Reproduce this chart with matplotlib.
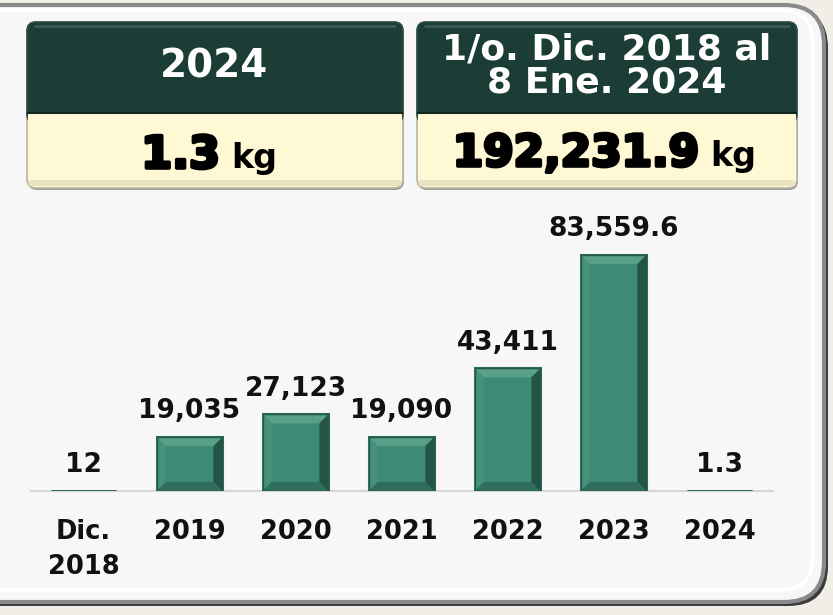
import matplotlib
matplotlib.use("Agg")
import matplotlib.pyplot as plt
from matplotlib.patches import FancyBboxPatch, Rectangle, Polygon
import matplotlib.patheffects as pe

# ---- data ----
categories = ["Dic.\n2018", "2019", "2020", "2021", "2022", "2023", "2024"]
values = [12, 19035, 27123, 19090, 43411, 83559.6, 1.3]
value_labels = ["12", "19,035", "27,123", "19,090", "43,411", "83,559.6", "1.3"]
box1_title = "2024"
box1_value = "1.3"
box2_title = "1/o. Dic. 2018 al\n8 Ene. 2024"
box2_value = "192,231.9"
unit = "kg"

W, H = 833, 615
fig = plt.figure(figsize=(W / 100, H / 100), dpi=100)
fig.patch.set_facecolor("#f1ede7")

# overlay axes in pixel coordinates (y down)
bg = fig.add_axes([0, 0, 1, 1], zorder=0)
bg.set_xlim(0, W)
bg.set_ylim(H, 0)
bg.axis("off")

# panel with shadow
shadow = FancyBboxPatch((-40, 8), 40 + 828, 606 - 8,
                        boxstyle="round,pad=0,rounding_size=40",
                        facecolor="#3a3a3a", edgecolor="none")
bg.add_patch(shadow)
panel = FancyBboxPatch((-40, 5), 40 + 824, 602 - 5,
                       boxstyle="round,pad=0,rounding_size=40",
                       facecolor="#f7f7f7", edgecolor="#8a8a8a", linewidth=3.0)
bg.add_patch(panel)
inner = FancyBboxPatch((-40, 10), 40 + 813, 590 - 10,
                       boxstyle="round,pad=0,rounding_size=34",
                       facecolor="none", edgecolor="#ffffff", linewidth=2.5)
bg.add_patch(inner)

dark = "#1c3c36"
cream = "#fff8d5"


def draw_box(x0, x1, y0, ysplit, y1):
    sh = FancyBboxPatch((x0 + 1, y0 + 2), x1 - x0, y1 - y0,
                        boxstyle="round,pad=0,rounding_size=9",
                        facecolor="#9a9a92", edgecolor="none")
    bg.add_patch(sh)
    body = FancyBboxPatch((x0, y0), x1 - x0, y1 - y0,
                          boxstyle="round,pad=0,rounding_size=9",
                          facecolor=cream, edgecolor="#b9b5a3", linewidth=1.2)
    bg.add_patch(body)
    bg.add_patch(Rectangle((x0 + 2, y1 - 8), x1 - x0 - 4, 6,
                           facecolor="#e9e2c3", edgecolor="none"))
    head = FancyBboxPatch((x0, y0), x1 - x0, ysplit - y0 + 10,
                          boxstyle="round,pad=0,rounding_size=9",
                          facecolor=dark, edgecolor="#2f4d46", linewidth=1.2)
    bg.add_patch(head)
    bg.add_patch(Rectangle((x0 + 0.8, ysplit), x1 - x0 - 1.6, 12,
                           facecolor=cream, edgecolor="none"))
    bg.plot([x0 + 8, x1 - 8], [y0 + 4, y0 + 4], color="#3d5a53", lw=2,
            solid_capstyle="round")
    bg.plot([x0 + 1, x1 - 1], [ysplit, ysplit], color="#0f2622", lw=1.5)


draw_box(27, 403, 22, 113, 188)
draw_box(417, 797, 22, 113, 188)

bold = dict(family="DejaVu Sans", fontweight="bold")
bg.text(214, 67, box1_title, color="white", fontsize=28, ha="center",
        va="center", **bold)
bg.text(607, 66, box2_title, color="white", fontsize=26, ha="center",
        va="center", linespacing=0.98, **bold)

heavy = [pe.withStroke(linewidth=2.6, foreground="black")]
t = bg.text(220, 168, box1_value, color="black", fontsize=32, ha="right",
            va="baseline", **bold)
t.set_path_effects(heavy)
bg.text(231, 168, unit, color="black", fontsize=24, ha="left",
        va="baseline", **bold)
t = bg.text(699, 166, box2_value, color="black", fontsize=31.5, ha="right",
            va="baseline", **bold)
t.set_path_effects(heavy)
bg.text(710, 166, unit, color="black", fontsize=24, ha="left",
        va="baseline", **bold)

# ---- bar chart ----
ax_left, ax_bottom = 30.5 / W, (H - 491) / H
ax_w, ax_h = 742 / W, 282.4 / H
ax = fig.add_axes([ax_left, ax_bottom, ax_w, ax_h], zorder=1)
ax.patch.set_alpha(0)
ymax = 100000
ax.set_xlim(-0.5, len(values) - 0.5)
ax.set_ylim(0, ymax)
for s in ["top", "right", "left"]:
    ax.spines[s].set_visible(False)
ax.spines["bottom"].set_color("#d6d6d6")
ax.spines["bottom"].set_linewidth(1.5)
ax.spines["bottom"].set_zorder(1)
ax.set_yticks([])

xs = list(range(len(values)))
bw = 0.62
face = "#3f8a75"
ax.bar(xs, values, width=bw, color=face, edgecolor="#2f6e5d",
       linewidth=2.2, zorder=2)

# bevel effect
px_x = ax_w * W / len(values)        # pixels per x unit
px_y = ax_h * H / ymax               # pixels per y unit
bev = 9
dx, dy = bev / px_x, bev / px_y
for x, v in zip(xs, values):
    if v < 2.5 * dy:
        continue
    l, r = x - bw / 2, x + bw / 2
    ax.add_patch(Polygon([(l, v), (r, v), (r - dx, v - dy), (l + dx, v - dy)],
                         closed=True, facecolor="#58a08a", edgecolor="none", zorder=3))
    ax.add_patch(Polygon([(r, v), (r, 0), (r - dx, dy), (r - dx, v - dy)],
                         closed=True, facecolor="#245446", edgecolor="none", zorder=3))
    ax.add_patch(Polygon([(l, v), (l, 0), (l + dx, dy), (l + dx, v - dy)],
                         closed=True, facecolor="#47917b", edgecolor="none", zorder=3))
    ax.add_patch(Polygon([(l, 0), (r, 0), (r - dx, dy), (l + dx, dy)],
                         closed=True, facecolor="#306d5c", edgecolor="none", zorder=3))
    ax.add_patch(Rectangle((l, 0), bw, v, facecolor="none",
                           edgecolor="#24574a", linewidth=1.0, zorder=4))

for x, v, lab in zip(xs, values, value_labels):
    ax.annotate(lab, (x, v), xytext=(0, 13.5), textcoords="offset points",
                ha="center", va="baseline", fontsize=19, color="#111111",
                **bold)

ax.set_xticks(xs)
ax.set_xticklabels(categories, fontsize=18.5, fontweight="bold",
                   family="DejaVu Sans", color="#111111")
ax.tick_params(axis="x", length=0, pad=20)
for lbl in ax.get_xticklabels():
    lbl.set_linespacing(1.45)

fig.savefig("out.png", dpi=100, facecolor=fig.get_facecolor())
